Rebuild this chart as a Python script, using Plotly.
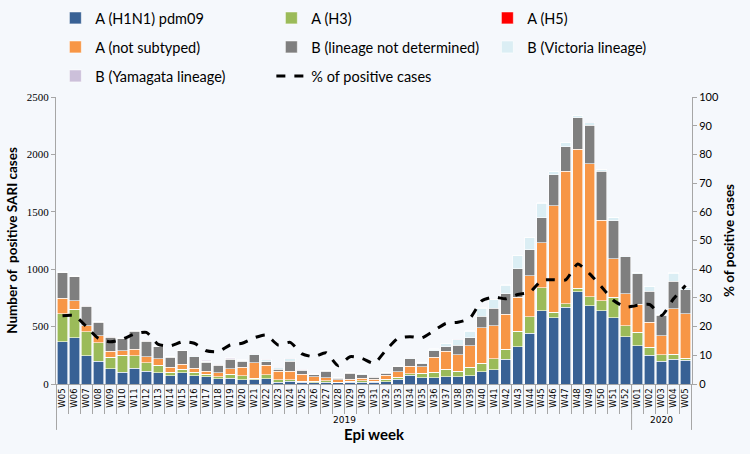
import plotly.graph_objects as go

years = ["2019"] * 48 + ["2020"] * 5
weeks = ["W%02d" % w for w in range(5, 53)] + ["W%02d" % w for w in range(1, 6)]

h1n1 = [366, 403, 246, 200, 134, 102, 139, 110, 96, 73, 98, 72, 64, 46, 52, 36, 35, 46, 17, 23,
        17, 12, 14, 9, 14, 14, 14, 20, 43, 75, 55, 55, 64, 64, 72, 107, 124, 214, 324, 442,
        639, 575, 670, 803, 682, 636, 578, 410, 332, 249, 199, 214, 208]
h3 = [244, 247, 210, 160, 98, 148, 105, 76, 67, 28, 32, 29, 20, 18, 32, 38, 17, 35, 18, 12,
      9, 11, 15, 8, 12, 15, 12, 23, 15, 15, 37, 46, 63, 46, 73, 72, 96, 87, 135, 142,
      199, 52, 29, 29, 78, 89, 179, 99, 119, 69, 58, 46, 15]
h5 = [0] * 53
not_subtyped = [139, 76, 52, 61, 53, 40, 58, 52, 55, 46, 43, 35, 29, 34, 49, 70, 133, 84, 75, 75,
                61, 41, 26, 21, 17, 20, 17, 32, 49, 66, 58, 133, 159, 144, 187, 312, 289, 306, 298, 361,
                393, 925, 1153, 1211, 1159, 703, 333, 277, 243, 222, 165, 396, 390]
b_nd = [221, 209, 169, 116, 122, 105, 157, 134, 107, 84, 116, 101, 78, 64, 81, 54, 72, 29, 20, 89,
        31, 17, 58, 14, 49, 32, 18, 17, 43, 64, 26, 55, 38, 84, 73, 99, 150, 179, 249, 223,
        217, 272, 214, 275, 335, 427, 332, 324, 265, 266, 176, 240, 208]
b_vic = [5, 5, 5, 5, 5, 5, 5, 5, 5, 5, 5, 8, 6, 4, 8, 8, 6, 18, 12, 20,
         7, 5, 6, 3, 5, 7, 4, 5, 6, 10, 8, 15, 30, 48, 56, 72, 75, 75, 115, 109,
         127, 23, 38, 23, 23, 15, 26, 8, 9, 44, 9, 69, 17]
b_yam = [3, 3, 2, 2, 2, 2, 2, 2, 2, 2, 2, 4, 8, 5, 5, 4, 3, 3, 3, 4,
         2, 2, 2, 1, 2, 2, 2, 2, 2, 2, 2, 3, 2, 2, 2, 2, 2, 2, 2, 2,
         2, 2, 2, 2, 2, 2, 2, 2, 2, 2, 2, 2, 2]
pct_positive = [23.8, 23.8, 20.0, 15.9, 14.7, 15.6, 17.4, 18.0, 13.8, 13.3, 14.7, 14.2, 11.6, 11.3, 13.6, 14.2,
                16.1, 17.1, 13.6, 14.5, 10.5, 9.5, 10.9, 6.4, 9.5, 8.9, 7.2, 11.8, 15.9, 16.5, 16.1, 18.6,
                21.1, 21.5, 22.9, 29.0, 30.3, 29.7, 31.2, 32.0, 36.1, 36.3, 36.3, 41.8, 38.4, 33.8, 29.1,
                26.8, 27.4, 27.7, 23.9, 29.7, 34.3]

series = [
    ("A (H1N1) pdm09", h1n1, "#386195"),
    ("A (H3)", h3, "#9bbb59"),
    ("A (H5)", h5, "#ff0000"),
    ("A (not subtyped)", not_subtyped, "#f79646"),
    ("B (lineage not determined)", b_nd, "#7f7f7f"),
    ("B (Victoria lineage)", b_vic, "#dbeef4"),
    ("B (Yamagata lineage)", b_yam, "#ccc0da"),
]

# unique category keys (year + week); ticks show the week only
x = [f"{y}-{w}" for y, w in zip(years, weeks)]

legend_ids = ["legend", "legend2", "legend3"]   # three legend rows, three entries each

fig = go.Figure()
for i, (name, vals, col) in enumerate(series):
    fig.add_trace(go.Bar(x=x, y=vals, name=name, marker_color=col, legend=legend_ids[i // 3],
                         marker_line=dict(color="white", width=0.6)))
fig.add_trace(go.Scatter(x=x, y=pct_positive, name="% of positive cases", yaxis="y2",
                         legend=legend_ids[2],
                         mode="lines", line=dict(color="black", width=3, dash="dash",
                                                 shape="spline", smoothing=0.6)))

# year groups: labels and separators below the week labels
axis_grey = "#a6a6a6"
year_list = []
for y in years:
    if y not in year_list:
        year_list.append(y)
bounds = [-0.5]
for y in year_list:
    idx = [i for i, v in enumerate(years) if v == y]
    mid = (idx[0] + idx[-1]) / 2
    fig.add_annotation(x=mid, xref="x", y=0, yref="paper",
                       yshift=-36, text=y, showarrow=False, font=dict(size=9, family="DejaVu Sans"),
                       yanchor="middle")
    bounds.append(idx[-1] + 0.5)
for b in bounds:
    fig.add_shape(type="line", xref="x", yref="paper", x0=b, x1=b, y0=0, y1=-0.16,
                  line=dict(color=axis_grey, width=1))

leg_common = dict(orientation="h", x=-0.001, xanchor="left", yanchor="middle",
                  traceorder="normal", entrywidth=171, entrywidthmode="pixels",
                  font=dict(size=14.5), bgcolor="rgba(0,0,0,0)")

bg = "#f5f8fc"
fig.update_layout(
    width=750, height=454,
    margin=dict(l=56, r=58, t=97, b=70, autoexpand=False),
    paper_bgcolor=bg, plot_bgcolor=bg,
    barmode="stack", bargap=0.14,
    font=dict(family="Lato, sans-serif", color="black"),
    legend=dict(y=1.2753, **leg_common),
    legend2=dict(y=1.1742, **leg_common),
    legend3=dict(y=1.0732, **leg_common),
    xaxis=dict(type="category", tickmode="array", tickvals=x, ticktext=weeks,
               tickangle=-90, tickfont=dict(size=8.5, family="DejaVu Sans"),
               showline=True, linecolor=axis_grey, ticks="outside", tickson="boundaries",
               ticklen=29, tickcolor=axis_grey, automargin=False,
               title=dict(text="<b>Epi week</b>", font=dict(size=15), standoff=22)),
    yaxis=dict(range=[0, 2500], dtick=500, showgrid=False, zeroline=False,
               showline=True, linecolor=axis_grey, ticks="outside", ticklen=4, tickcolor=axis_grey,
               tickfont=dict(size=11, family="Liberation Serif"), automargin=False,
               title=dict(text="<b>Number of  positive SARI cases</b>", font=dict(size=13.5), standoff=6)),
    yaxis2=dict(range=[0, 100], dtick=10, overlaying="y", side="right", showgrid=False, zeroline=False,
                showline=True, linecolor=axis_grey, ticks="outside", ticklen=4, tickcolor=axis_grey,
                tickfont=dict(size=11), automargin=False,
                title=dict(text="<b>% of positive cases</b>", font=dict(size=13.5), standoff=6)),
)
fig.write_html("out.html")
